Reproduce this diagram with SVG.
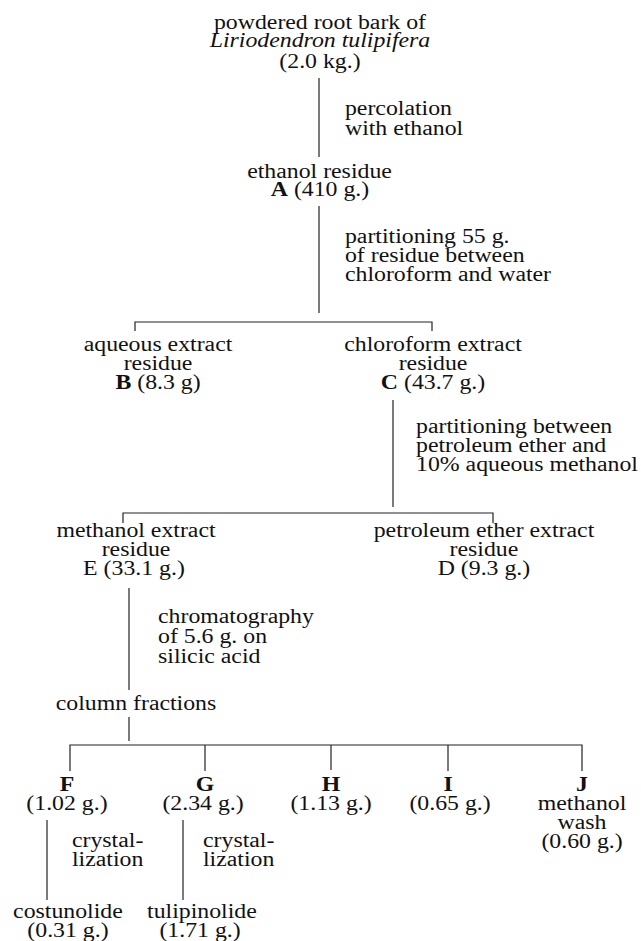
<svg xmlns="http://www.w3.org/2000/svg" width="641" height="941" viewBox="0 0 641 941">
<style>
text{font-family:"Liberation Serif","Times New Roman",serif;font-size:20px;fill:#111}
.c{text-anchor:middle}
.b{font-weight:bold}
.i{font-style:italic}
#connectors line,#connectors polyline{stroke:#222;stroke-width:1.2;fill:none}
</style>
<rect width="641" height="941" fill="#fff"/>
<g id="connectors">
<line x1="319" y1="78" x2="319" y2="157"/>
<line x1="319" y1="206" x2="319" y2="313"/>
<polyline points="135,331 135,322 432,322 432,331"/>
<line x1="393" y1="400" x2="393" y2="507"/>
<polyline points="123,523 123,513 493,513 493,523"/>
<line x1="129" y1="588" x2="129" y2="690"/>
<line x1="129" y1="717" x2="129" y2="741"/>
<polyline points="70,771 70,745 582,745 582,771"/>
<line x1="205" y1="745" x2="205" y2="771"/>
<line x1="331" y1="745" x2="331" y2="770"/>
<line x1="448" y1="745" x2="448" y2="771"/>
<line x1="47" y1="820" x2="47" y2="900"/>
<line x1="183" y1="820" x2="183" y2="900"/>
</g>
<g id="labels" transform="scale(1.19 1)">
<g id="start">
<text class="c" x="268.9" y="29">powdered root bark of</text>
<text class="c i" x="268.9" y="47">Liriodendron tulipifera</text>
<text class="c" x="268.9" y="68">(2.0 kg.)</text>
</g>
<g id="label-percolation">
<text x="289.9" y="115">percolation</text>
<text x="289.9" y="135">with ethanol</text>
</g>
<g id="A">
<text class="c" x="268.5" y="178">ethanol residue</text>
<text class="c" x="268.9" y="196"><tspan class="b">A</tspan> (410 g.)</text>
</g>
<g id="label-partition1">
<text x="289.9" y="243">partitioning 55 g.</text>
<text x="289.9" y="262">of residue between</text>
<text x="289.9" y="281">chloroform and water</text>
</g>
<g id="B">
<text class="c" x="132.8" y="351">aqueous extract</text>
<text class="c" x="132.8" y="370">residue</text>
<text class="c" x="132.8" y="389"><tspan class="b">B</tspan> (8.3 g)</text>
</g>
<g id="C">
<text class="c" x="363.9" y="351">chloroform extract</text>
<text class="c" x="363.9" y="370">residue</text>
<text class="c" x="363.9" y="389"><tspan class="b">C</tspan> (43.7 g.)</text>
</g>
<g id="label-partition2">
<text x="349.6" y="433">partitioning between</text>
<text x="349.6" y="452">petroleum ether and</text>
<text x="349.6" y="471">10% aqueous methanol</text>
</g>
<g id="E">
<text class="c" x="114.3" y="537">methanol extract</text>
<text class="c" x="114.3" y="556">residue</text>
<text class="c" x="112.6" y="575">E (33.1 g.)</text>
</g>
<g id="D">
<text class="c" x="406.7" y="537">petroleum ether extract</text>
<text class="c" x="406.7" y="556">residue</text>
<text class="c" x="406.7" y="575">D (9.3 g.)</text>
</g>
<g id="label-chromatography">
<text x="132.8" y="623">chromatography</text>
<text x="132.8" y="643">of 5.6 g. on</text>
<text x="132.8" y="663">silicic acid</text>
</g>
<g id="column-fractions">
<text class="c" x="114.3" y="710">column fractions</text>
</g>
<g id="F">
<text class="c b" x="56.3" y="791">F</text>
<text class="c" x="56.3" y="810">(1.02 g.)</text>
</g>
<g id="G">
<text class="c b" x="172.3" y="791">G</text>
<text class="c" x="170.6" y="810">(2.34 g.)</text>
</g>
<g id="H">
<text class="c b" x="278.2" y="791">H</text>
<text class="c" x="278.2" y="810">(1.13 g.)</text>
</g>
<g id="I">
<text class="c b" x="376.5" y="791">I</text>
<text class="c" x="378.2" y="810">(0.65 g.)</text>
</g>
<g id="J">
<text class="c b" x="489.1" y="791">J</text>
<text class="c" x="489.1" y="810">methanol</text>
<text class="c" x="489.1" y="829">wash</text>
<text class="c" x="489.1" y="848">(0.60 g.)</text>
</g>
<g id="label-cryst-F">
<text x="60.5" y="847">crystal-</text>
<text x="60.5" y="866">lization</text>
</g>
<g id="label-cryst-G">
<text x="170.6" y="847">crystal-</text>
<text x="170.6" y="866">lization</text>
</g>
<g id="costunolide">
<text class="c" x="57.1" y="918">costunolide</text>
<text class="c" x="57.1" y="937">(0.31 g.)</text>
</g>
<g id="tulipinolide">
<text class="c" x="169.7" y="918">tulipinolide</text>
<text class="c" x="168.1" y="937">(1.71 g.)</text>
</g>
</g>
</svg>
